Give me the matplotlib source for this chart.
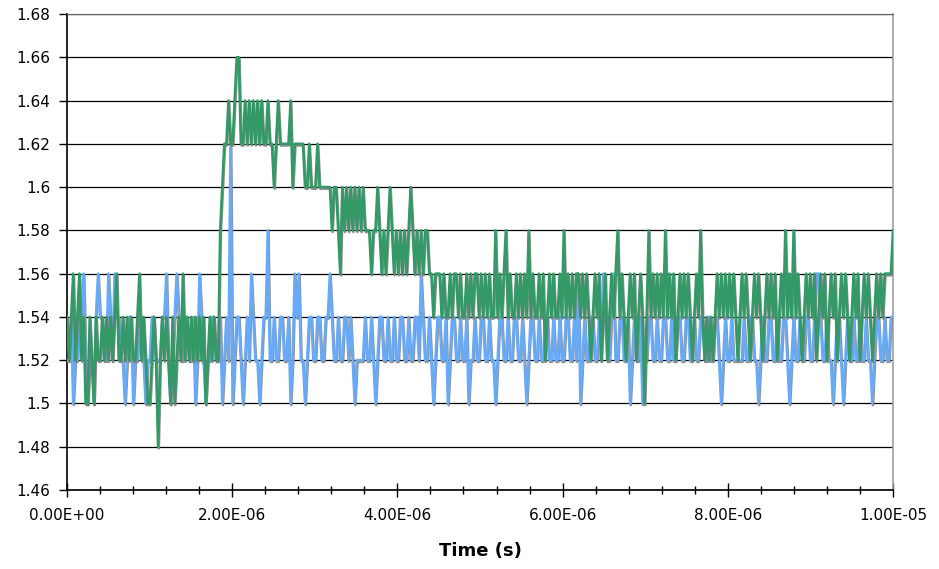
import numpy as np
import matplotlib
matplotlib.use("Agg")
import matplotlib.pyplot as plt
from matplotlib import patheffects as pe
from matplotlib.ticker import MultipleLocator, FuncFormatter

# ---- data (values in hundredths of volts) ----
t_start = 0.0
t_end = 1.0e-5
n_samples = 400

blue_vals = [
    152,152,154,150,152,152,154,154,156,152,150,152,152,150,154,156,154,154,152,152,
    156,154,152,156,154,154,152,152,150,152,154,154,150,152,152,154,154,152,150,152,
    152,154,154,152,152,152,154,154,156,152,150,152,154,156,154,152,152,154,154,152,
    152,154,150,152,156,154,152,150,152,152,154,154,152,152,154,150,152,154,152,162,
    150,152,154,154,152,150,152,154,152,156,154,152,152,150,152,154,154,158,152,152,
    154,152,152,154,154,152,152,154,150,152,156,154,156,152,152,150,152,154,154,152,
    152,154,154,152,152,154,154,156,154,152,152,154,152,152,154,154,152,154,152,150,
    152,152,152,152,154,152,152,154,152,150,152,154,154,152,152,154,152,152,154,152,
    152,154,154,152,152,154,152,152,154,154,152,156,154,152,152,154,152,150,152,154,
    154,152,152,154,150,152,154,154,152,152,154,152,152,154,150,152,152,154,152,152,
    154,154,152,152,154,152,152,150,152,154,154,152,152,154,152,152,154,154,152,152,
    154,152,150,152,154,154,152,152,154,152,152,154,154,152,152,154,152,152,154,152,
    152,154,154,152,152,154,152,156,150,152,154,152,152,154,154,152,152,154,152,156,
    154,152,152,154,156,152,152,154,154,152,152,154,150,152,154,152,152,154,150,152,
    152,154,154,152,152,154,152,152,154,154,152,152,154,152,152,154,154,152,152,154,
    154,152,152,154,152,152,154,154,152,152,154,152,152,154,154,152,150,152,154,152,
    152,154,152,152,152,152,152,154,152,152,154,154,152,152,150,152,154,152,152,154,
    154,152,152,154,152,152,154,154,152,150,152,154,152,152,154,152,152,154,154,152,
    152,154,156,156,154,152,152,154,152,152,150,152,154,154,152,150,152,154,152,152,
    154,152,152,154,152,152,154,152,152,150,152,154,154,152,152,154,152,152,154,154,
]

green_vals = [
    154,152,154,156,152,154,156,152,154,150,150,154,152,150,154,152,152,154,152,154,
    152,154,152,154,156,152,152,154,152,154,152,154,152,152,154,156,152,154,152,150,
    150,152,154,152,148,152,154,152,154,152,150,154,150,152,154,152,156,152,154,152,
    154,152,154,152,154,152,154,150,152,154,152,154,152,152,158,160,162,162,164,162,
    162,164,166,166,162,162,164,162,164,162,164,162,164,162,164,162,162,164,162,162,
    160,162,164,162,162,162,162,162,164,160,162,162,162,162,162,160,160,162,160,160,
    160,162,160,160,160,160,160,160,158,160,160,158,156,160,158,160,158,160,158,160,
    158,160,158,160,158,158,158,156,158,158,160,158,156,158,156,158,160,158,156,158,
    156,158,156,158,156,158,160,158,156,158,156,158,156,158,158,156,156,154,156,156,
    156,154,156,154,154,156,154,156,156,154,156,154,154,156,154,156,154,156,156,154,
    156,154,156,154,156,154,154,158,154,156,154,156,158,154,156,154,154,156,154,156,
    154,156,154,158,154,156,154,154,156,154,156,152,154,156,154,156,154,154,156,154,
    158,154,156,154,156,154,156,156,154,156,154,156,154,152,154,156,154,156,152,154,
    156,152,154,156,154,156,158,154,156,154,152,154,156,154,156,152,154,156,154,150,
    154,158,154,156,154,156,154,156,154,158,154,156,154,156,152,154,156,154,156,154,
    156,154,152,154,156,154,158,154,152,154,152,154,152,154,156,154,156,154,156,154,
    156,154,156,154,152,154,156,154,156,154,152,154,156,154,156,154,152,154,156,154,
    156,154,156,152,154,156,154,158,154,156,154,158,154,156,154,152,154,156,154,156,
    154,156,152,154,156,154,156,152,154,156,154,156,152,154,156,154,156,154,152,154,
    156,154,156,152,154,156,154,156,154,152,154,156,154,156,154,156,156,156,156,158,
]

x_major = [0.0, 2e-6, 4e-6, 6e-6, 8e-6, 1e-5]
y_ticks = [1.46, 1.48, 1.50, 1.52, 1.54, 1.56, 1.58, 1.60, 1.62, 1.64, 1.66, 1.68]
y_labels = ["1.46", "1.48", "1.5", "1.52", "1.54", "1.56", "1.58", "1.6", "1.62", "1.64", "1.66", "1.68"]
x_label = "Time (s)"

# ---- figure ----
plt.rcParams['font.family'] = ['DejaVu Sans']
fig = plt.figure(figsize=(9.39, 5.69), dpi=100)
ax = fig.add_axes([67/939, 1-490/569, (893-67)/939, (490-14)/569])

t = np.linspace(t_start, t_end, n_samples)
blue = np.array(blue_vals) / 100.0
green = np.array(green_vals) / 100.0

shadow = [pe.SimpleLineShadow(offset=(0.5, -1.2), shadow_color='#808080', alpha=0.85), pe.Normal()]

ax.plot(t, blue, color='#66AAF8', lw=1.9, zorder=3, path_effects=shadow)
ax.plot(t, green, color='#339966', lw=1.9, zorder=4, path_effects=shadow)

ax.set_xlim(t_start, t_end)
ax.set_ylim(1.46, 1.68)
ax.set_yticks(y_ticks)
ax.set_yticklabels(y_labels)
ax.set_xticks(x_major)
ax.xaxis.set_minor_locator(MultipleLocator(4e-7))
ax.xaxis.set_major_formatter(FuncFormatter(lambda v, p: "{:.2E}".format(v)))

ax.grid(axis='y', color='black', lw=0.9, zorder=1)
ax.set_axisbelow(True)
for s in ['left', 'bottom']:
    ax.spines[s].set_color('black')
    ax.spines[s].set_linewidth(1.2)
ax.spines['top'].set_color('#606060')
ax.spines['right'].set_color('#a0a0a0')
ax.spines['right'].set_linewidth(1.2)

ax.tick_params(axis='y', direction='out', length=6, width=1, labelsize=11, pad=6)
ax.tick_params(axis='x', which='major', direction='inout', length=10, width=1, labelsize=11, pad=8)
ax.tick_params(axis='x', which='minor', direction='inout', length=6, width=1)

ax.set_xlabel(x_label, fontsize=13, fontweight='bold', labelpad=14)

fig.savefig("out.png", dpi=100)
